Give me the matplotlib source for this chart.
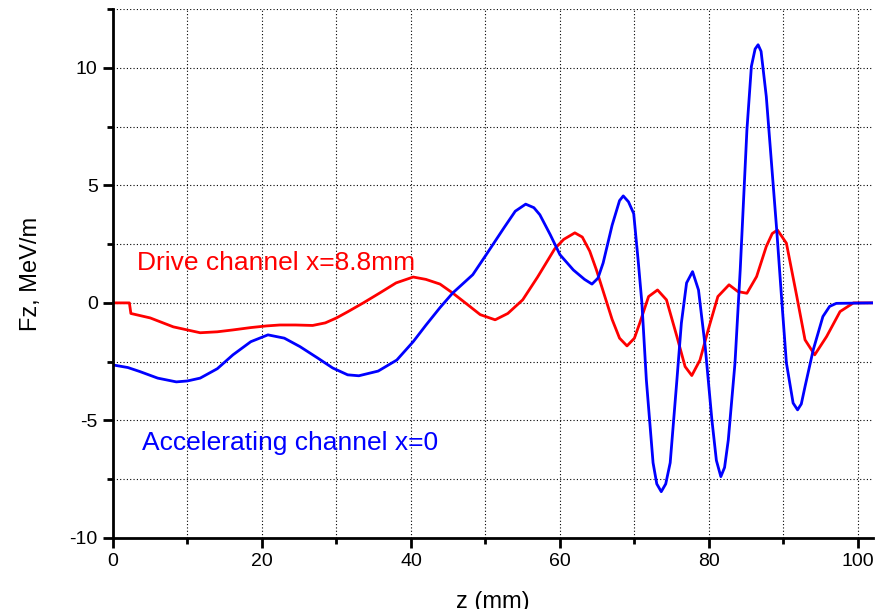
import numpy as np
import matplotlib
matplotlib.use("Agg")
import matplotlib.pyplot as plt
from matplotlib.ticker import MultipleLocator

plt.rcParams["font.family"] = ["Liberation Sans", "DejaVu Sans"]
plt.rcParams["axes.unicode_minus"] = False

# Fz along z for the accelerating channel (x=0)
z_acc = [0, 2, 3.6, 6, 8.5, 10, 11.7, 14, 16.1, 18.5, 20.8, 23, 25.1, 27.5, 29.5,
         31.5, 33, 35.6, 38.1, 40.3, 42, 43.9, 45.6, 48.3, 50.1, 52.5, 54, 55.4,
         56.5, 57.3, 58.7, 60, 61.8, 63.3, 64.3, 65.1, 65.8, 67, 68, 68.5, 69.2,
         69.9, 70.5, 71.0, 71.6, 72.5, 73.0, 73.6, 74.2, 74.8, 75.7, 76.3, 77.0,
         77.8, 78.6, 79.5, 80.4, 81.0, 81.6, 82.1, 82.6, 83.5, 84.2, 85.1, 85.7,
         86.2, 86.6, 87.0, 87.7, 88.4, 89.1, 89.8, 90.4, 91.3, 91.9, 92.4, 92.9,
         94.0, 95.3, 96.2, 97.1, 102]
fz_acc = [-2.64, -2.75, -2.92, -3.2, -3.36, -3.32, -3.2, -2.8, -2.21, -1.65, -1.36,
          -1.5, -1.86, -2.35, -2.77, -3.06, -3.1, -2.9, -2.43, -1.65, -0.95, -0.2,
          0.42, 1.2, 2.05, 3.2, 3.9, 4.2, 4.05, 3.75, 2.9, 2.05, 1.4, 1.0, 0.8,
          1.05, 1.7, 3.3, 4.35, 4.55, 4.3, 3.8, 1.8, 0.0, -3.28, -6.8, -7.7, -8.03,
          -7.7, -6.8, -3.28, -0.86, 0.85, 1.33, 0.55, -1.86, -4.98, -6.7, -7.39,
          -7.0, -5.83, -2.55, 1.4, 7.36, 10.06, 10.8, 10.98, 10.7, 8.78, 5.94, 3.1,
          0.0, -2.55, -4.26, -4.55, -4.3, -3.56, -2.0, -0.58, -0.15, -0.02, 0.0]

# Fz along z for the drive channel (x=8.8mm)
z_drv = [0, 2.2, 2.4, 5.0, 8.1, 11.7, 14, 16.1, 18.5, 20.6, 22.4, 24.5, 26.8, 28.5,
         30, 31.5, 33.6, 35.8, 38, 40.3, 42, 43.9, 45.6, 47.5, 49.3, 51.3, 53, 55,
         57, 59.3, 60.5, 62, 63, 64, 64.9, 66, 67, 68, 69, 70, 70.7, 71.9, 73.1,
         74.3, 75.7, 76.8, 77.7, 78.8, 79.9, 81.2, 82.7, 83.9, 85.1, 86.4, 87.7,
         88.5, 89.2, 90.4, 91.8, 92.9, 94.2, 95.8, 97.6, 99.4, 102]
fz_drv = [0, 0, -0.45, -0.64, -1.02, -1.27, -1.23, -1.15, -1.05, -0.98, -0.94,
          -0.94, -0.96, -0.85, -0.64, -0.38, 0.0, 0.42, 0.85, 1.1, 1.0, 0.8, 0.42,
          -0.05, -0.5, -0.72, -0.45, 0.13, 1.1, 2.3, 2.7, 2.98, 2.8, 2.2, 1.4, 0.3,
          -0.7, -1.5, -1.83, -1.5, -0.87, 0.27, 0.55, 0.13, -1.43, -2.71, -3.09,
          -2.43, -1.15, 0.27, 0.77, 0.48, 0.41, 1.12, 2.4, 2.95, 3.1, 2.54, 0.27,
          -1.57, -2.21, -1.43, -0.37, 0.0, 0.0]

fig = plt.figure(figsize=(8.87, 6.09), dpi=100)
ax = fig.add_axes([0.1274, 0.1166, 0.8566, 0.8686])

ax.plot(z_drv, fz_drv, color="#ff0000", lw=2.0, solid_joinstyle="round")
ax.plot(z_acc, fz_acc, color="#0000ff", lw=2.0, solid_joinstyle="round")

ax.text(3.2, 1.7, "Drive channel x=8.8mm", color="#ff0000", fontsize=19,
        va="center", ha="left")
ax.text(3.9, -5.96, "Accelerating channel x=0", color="#0000ff", fontsize=19,
        va="center", ha="left")

ax.set_xlim(0, 102)
ax.set_ylim(-10, 12.5)
ax.xaxis.set_major_locator(MultipleLocator(20))
ax.xaxis.set_minor_locator(MultipleLocator(10))
ax.yaxis.set_major_locator(MultipleLocator(5))
ax.yaxis.set_minor_locator(MultipleLocator(2.5))

for side in ("top", "right"):
    ax.spines[side].set_visible(False)
for side in ("left", "bottom"):
    ax.spines[side].set_linewidth(2.0)

ax.tick_params(which="major", direction="out", length=7, width=2.0,
               labelsize=14, pad=4)
ax.tick_params(which="minor", direction="out", length=4, width=2.0)

ax.grid(True, which="both", color="black", linestyle=(0, (1, 2)), linewidth=0.8)
ax.set_axisbelow(True)

ax.set_xlabel("z (mm)", fontsize=17, labelpad=15)
ax.set_ylabel("Fz, MeV/m", fontsize=17, labelpad=20)

fig.savefig("out.png", dpi=100)
